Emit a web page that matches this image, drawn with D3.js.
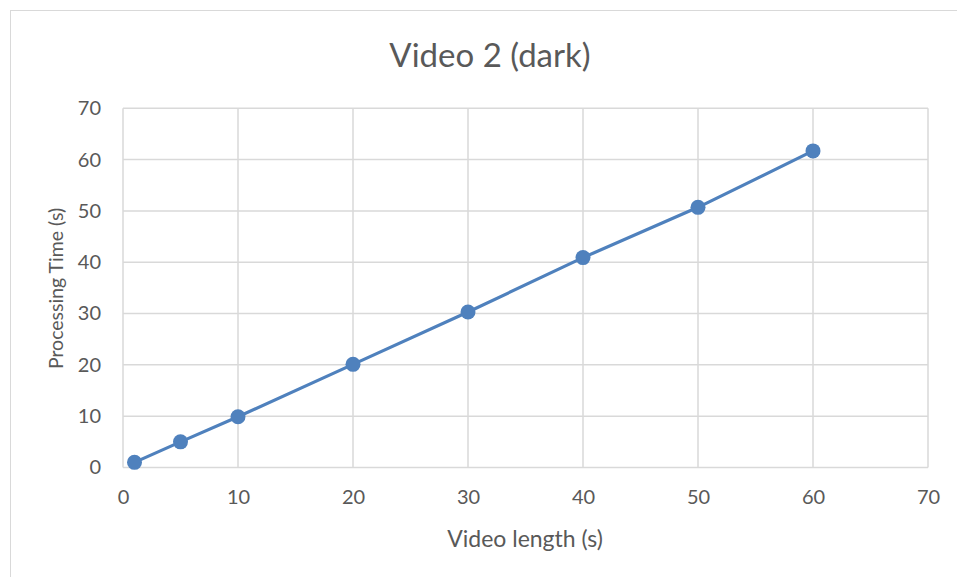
<!DOCTYPE html>
<html><head><meta charset="utf-8">
<script src="https://cdn.jsdelivr.net/npm/d3@7"></script>
<style>body{margin:0;background:#fff}svg{display:block}text{font-family:Lato,"Open Sans",sans-serif;fill:#595959}</style>
</head><body>
<script>
const title = "Video 2 (dark)";
const xLabel = "Video length (s)";
const yLabel = "Processing Time (s)";
const videoLength = [1, 5, 10, 20, 30, 40, 50, 60];
const processingTime = [1.0, 5.0, 9.9, 20.1, 30.3, 40.9, 50.7, 61.7];
const xTicks = [0, 10, 20, 30, 40, 50, 60, 70];
const yTicks = [0, 10, 20, 30, 40, 50, 60, 70];

const W = 957, H = 577;
const svg = d3.select("body").append("svg").attr("width", W).attr("height", H);
svg.append("rect").attr("x", 10.5).attr("y", 10.5).attr("width", 1000).attr("height", 700)
  .attr("fill", "#fff").attr("stroke", "#d9d9d9");

const x = d3.scaleLinear().domain([0, 70]).range([123, 928]);
const y = d3.scaleLinear().domain([0, 70]).range([467.5, 108.3]);

// gridlines
svg.append("g").selectAll("line").data(xTicks).join("line")
  .attr("x1", d => x(d)).attr("x2", d => x(d)).attr("y1", y(0)).attr("y2", y(70))
  .attr("stroke", "#d9d9d9").attr("stroke-width", 1.5);
svg.append("g").selectAll("line").data(yTicks).join("line")
  .attr("x1", x(0)).attr("x2", x(70)).attr("y1", d => y(d)).attr("y2", d => y(d))
  .attr("stroke", "#d9d9d9").attr("stroke-width", 1.5);

// axes
const xAxis = svg.append("g").attr("transform", `translate(0,${y(0)})`)
  .call(d3.axisBottom(x).tickValues(xTicks).tickSize(0).tickPadding(22));
xAxis.select(".domain").remove();
xAxis.selectAll("text").style("font-size", "20px").attr("fill", "#595959");
const yAxis = svg.append("g").attr("transform", `translate(${x(0)},0)`)
  .call(d3.axisLeft(y).tickValues(yTicks).tickSize(0).tickPadding(22));
yAxis.select(".domain").remove();
yAxis.selectAll("text").style("font-size", "20px").attr("fill", "#595959");

// line
const pts = videoLength.map((v, i) => [v, processingTime[i]]);
svg.append("path").datum(pts)
  .attr("d", d3.line().x(d => x(d[0])).y(d => y(d[1])))
  .attr("fill", "none").attr("stroke", "#4f81bd").attr("stroke-width", 3.2);
svg.append("g").selectAll("circle").data(pts).join("circle")
  .attr("cx", d => x(d[0])).attr("cy", d => y(d[1])).attr("r", 7.5)
  .attr("fill", "#4f81bd");

svg.append("text").attr("x", 490).attr("y", 67).attr("text-anchor", "middle")
  .style("font-size", "33px").text(title);
svg.append("text").attr("x", 525).attr("y", 547).attr("text-anchor", "middle")
  .style("font-size", "23px").text(xLabel);
svg.append("text").attr("transform", "translate(63,288.5) rotate(-90)").attr("text-anchor", "middle")
  .style("font-size", "19.5px").text(yLabel);
</script>
</body></html>
